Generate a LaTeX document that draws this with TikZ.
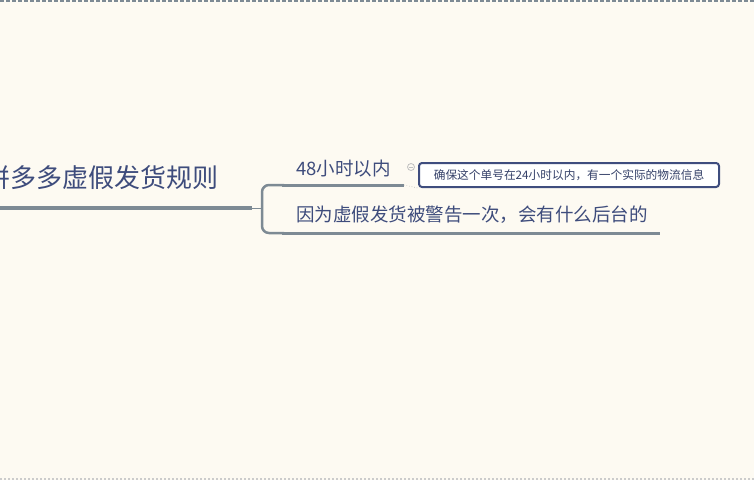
\documentclass[tikz,border=0pt]{standalone}
\usepackage{fontspec}
\newfontfamily\cjk{Noto Sans CJK SC}
\definecolor{paper}{HTML}{FDFAF2}
\definecolor{branch}{HTML}{7D8A94}
\definecolor{ink}{HTML}{3E4C7C}
\definecolor{noteline}{HTML}{3F4D7E}
\tikzset{
    topic/.style={inner sep=0pt, text=ink, font=\cjk\fontsize{26}{30}\selectfont},
    subtopic/.style={inner sep=0pt, text=ink, font=\cjk\fontsize{18.5}{22}\selectfont},
    notebox/.style={draw=noteline, line width=2pt, rounded corners=3pt, fill=white,
        minimum width=300pt, minimum height=24pt, inner sep=0pt,
        text=ink!85!black, font=\cjk\fontsize{11.7}{14}\selectfont},
    limb/.style={draw=branch, line width=3pt, line cap=butt}
}
\begin{document}
\begin{tikzpicture}[x=1pt, y=-1pt]
        \fill[paper] (0, 0) rectangle (754, 480);
        \useasboundingbox (0, 0) rectangle (754, 480);
        \clip (0, 0) rectangle (754, 480);
        % screen edges
        \draw[branch, line width=1.5pt, dash pattern=on 4pt off 2pt] (0, 1) -- (754, 1);
        \draw[black!20, line width=2pt, dotted] (0, 479) -- (754, 479);
        % central topic
        \node[topic, anchor=east] (topic) at (219, 178) {拼多多虚假发货规则};
        \coordinate (root) at (0, 208);
        \coordinate (fork) at (262, 208);
        \draw[limb, line width=4pt] (root) -- (252, 208);
        \draw[branch, line width=1pt] (252, 208) -- (fork);
        % bracket
        \draw[branch, line width=2.5pt, rounded corners=7pt]
            (284, 185) -- (262, 185) -- (262, 233) -- (284, 233);
        % branches
        \node[subtopic, anchor=base west] (t48) at (296, 175) {48小时以内};
        \node[subtopic, anchor=base west] (reason) at (296, 221)
            {因为虚假发货被警告一次，会有什么后台的};
        \draw[limb] (282, 185) -- (404, 185);
        \draw[limb] (282, 233) -- (660, 233);
        % note
        \node[notebox] (note) at (569, 175) {确保这个单号在24小时以内，有一个实际的物流信息};
        \draw[black!30, line width=0.6pt, dotted] (404, 185) -- (note.south west);
        \draw[black!25, line width=0.8pt] (411, 167) circle (3.5);
        \draw[black!25, line width=0.6pt] (409, 167) -- (413, 167);
    \end{tikzpicture}
\end{document}
